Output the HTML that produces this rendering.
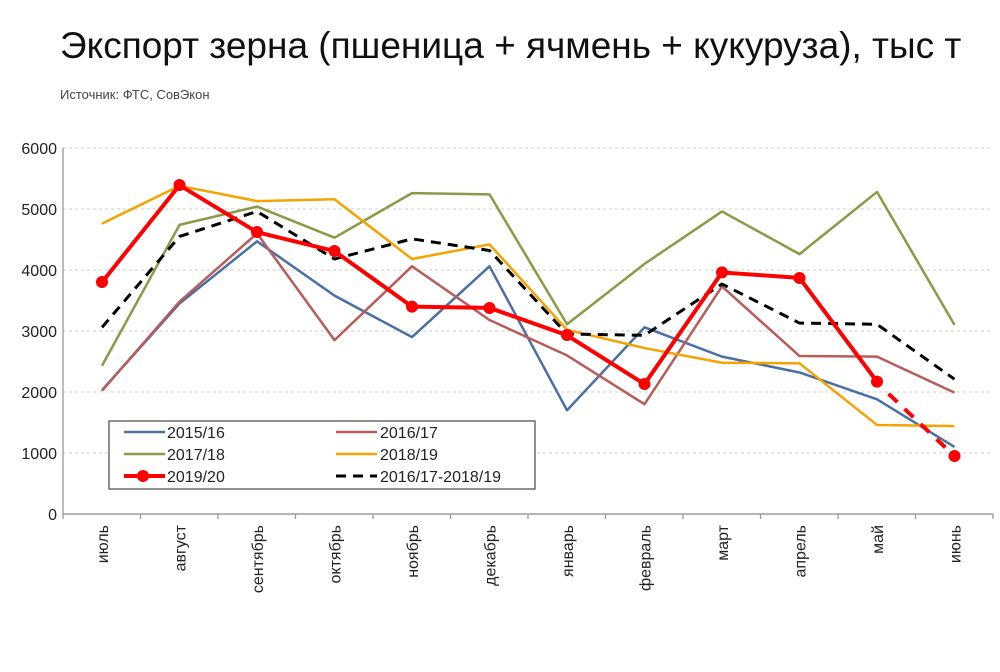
<!DOCTYPE html>
<html><head><meta charset="utf-8"><style>
body{margin:0;background:#fff;width:1000px;height:667px;overflow:hidden;font-family:"Liberation Sans",sans-serif}
</style></head><body>
<svg width="1000" height="667" xmlns="http://www.w3.org/2000/svg" font-family="Liberation Sans, sans-serif">
<text x="60" y="58" font-size="37" fill="#111">Экспорт зерна (пшеница + ячмень + кукуруза), тыс т</text>
<text x="60" y="99" font-size="13" fill="#444">Источник: ФТС, СовЭкон</text>
<g stroke="#ccc" stroke-dasharray="3,3" stroke-width="1">
<line x1="63" x2="993" y1="148" y2="148"/><line x1="63" x2="993" y1="209" y2="209"/><line x1="63" x2="993" y1="270" y2="270"/><line x1="63" x2="993" y1="331" y2="331"/><line x1="63" x2="993" y1="392" y2="392"/><line x1="63" x2="993" y1="453" y2="453"/>
</g>
<g stroke="#999" stroke-width="1.3">
<line x1="63" x2="63" y1="148" y2="514"/><line x1="63" x2="993" y1="514" y2="514"/>
<line x1="63" x2="993" y1="514" y2="514"/>
<path d="M63 514v5M140.5 514v5M218 514v5M295.5 514v5M373 514v5M450.5 514v5M528 514v5M605.5 514v5M683 514v5M760.5 514v5M838 514v5M915.5 514v5M993 514v5"/>
</g>
<g font-size="16" fill="#222" text-anchor="end">
<text x="57" y="154">6000</text><text x="57" y="215">5000</text><text x="57" y="276">4000</text><text x="57" y="337">3000</text><text x="57" y="398">2000</text><text x="57" y="459">1000</text><text x="57" y="520">0</text>
</g>
<g font-size="16" fill="#222" text-anchor="end">
<text transform="translate(108,525) rotate(-90)">июль</text>
<text transform="translate(185.5,525) rotate(-90)">август</text>
<text transform="translate(263,525) rotate(-90)">сентябрь</text>
<text transform="translate(340.5,525) rotate(-90)">октябрь</text>
<text transform="translate(418,525) rotate(-90)">ноябрь</text>
<text transform="translate(495.5,525) rotate(-90)">декабрь</text>
<text transform="translate(573,525) rotate(-90)">январь</text>
<text transform="translate(650.5,525) rotate(-90)">февраль</text>
<text transform="translate(728,525) rotate(-90)">март</text>
<text transform="translate(805.5,525) rotate(-90)">апрель</text>
<text transform="translate(883,525) rotate(-90)">май</text>
<text transform="translate(960.5,525) rotate(-90)">июнь</text>
</g>
<g transform="translate(102,514) scale(77.5,-0.061)" fill="none" stroke-linejoin="round">
<polyline vector-effect="non-scaling-stroke" stroke="#4a6fa5" stroke-width="2.5" points="0,2030 1,3450 2,4470 3,3580 4,2900 5,4060 6,1700 7,3060 8,2580 9,2320 10,1880 11,1100"/>
<polyline vector-effect="non-scaling-stroke" stroke="#b85c5a" stroke-width="2.5" points="0,2020 1,3480 2,4600 3,2850 4,4060 5,3180 6,2600 7,1800 8,3730 9,2590 10,2580 11,1990"/>
<polyline vector-effect="non-scaling-stroke" stroke="#8a9a45" stroke-width="2.5" points="0,2430 1,4740 2,5040 3,4530 4,5260 5,5240 6,3110 7,4100 8,4960 9,4260 10,5280 11,3100"/>
<polyline vector-effect="non-scaling-stroke" stroke="#f5a300" stroke-width="2.5" points="0,4760 1,5380 2,5130 3,5160 4,4180 5,4420 6,3020 7,2720 8,2480 9,2470 10,1460 11,1440"/>
<polyline vector-effect="non-scaling-stroke" stroke="#000" stroke-width="3" stroke-dasharray="10,7" points="0,3060 1,4550 2,4960 3,4180 4,4510 5,4320 6,2950 7,2930 8,3770 9,3130 10,3110 11,2210"/>
<polyline vector-effect="non-scaling-stroke" stroke="#f00" stroke-width="4" points="0,3800 1,5390 2,4620 3,4310 4,3400 5,3380 6,2930 7,2130 8,3960 9,3870 10,2170"/>
<polyline vector-effect="non-scaling-stroke" stroke="#f00" stroke-width="4" stroke-dasharray="12,10" points="10.15,1970 11,950"/>
</g>
<g fill="#f00">
<circle cx="102" cy="282" r="6"/><circle cx="179.5" cy="185" r="6"/><circle cx="257" cy="232" r="6"/><circle cx="334.5" cy="251" r="6"/><circle cx="412" cy="306.6" r="6"/><circle cx="489.5" cy="308" r="6"/><circle cx="567" cy="335" r="6"/><circle cx="644.5" cy="384" r="6"/><circle cx="722" cy="272.4" r="6"/><circle cx="799.5" cy="278" r="6"/><circle cx="877" cy="381.6" r="6"/><circle cx="954.5" cy="456" r="6"/>
</g>
<rect x="109" y="421" width="426" height="68" fill="#fff" stroke="#555" stroke-width="1.3"/>
<g font-size="16" fill="#222">
<line x1="124" x2="165" y1="432" y2="432" stroke="#4a6fa5" stroke-width="2.5"/><text x="167" y="438">2015/16</text>
<line x1="124" x2="165" y1="454" y2="454" stroke="#8a9a45" stroke-width="2.5"/><text x="167" y="460">2017/18</text>
<line x1="124" x2="165" y1="476" y2="476" stroke="#f00" stroke-width="4"/><circle cx="143" cy="476" r="6" fill="#f00"/><text x="167" y="482">2019/20</text>
<line x1="336" x2="377" y1="432" y2="432" stroke="#b85c5a" stroke-width="2.5"/><text x="380" y="438">2016/17</text>
<line x1="336" x2="377" y1="454" y2="454" stroke="#f5a300" stroke-width="2.5"/><text x="380" y="460">2018/19</text>
<line x1="336" x2="377" y1="476" y2="476" stroke="#000" stroke-width="3" stroke-dasharray="10,7"/><text x="380" y="482">2016/17-2018/19</text>
</g>
</svg>
</body></html>
